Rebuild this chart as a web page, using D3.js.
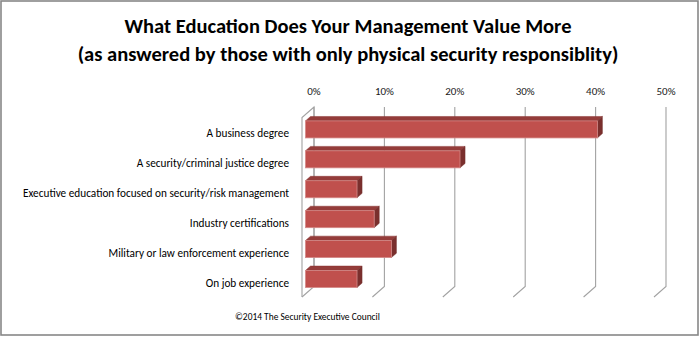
<!DOCTYPE html>
<html>
<head>
<meta charset="utf-8">
<script src="https://cdn.jsdelivr.net/npm/d3@7"></script>
<style>
  html, body { margin: 0; padding: 0; background: #fff; }
  svg { display: block; }
  text { font-family: Carlito, Calibri, Lato, "Open Sans", sans-serif; }
</style>
</head>
<body>
<svg id="chart" width="700" height="338"></svg>
<script>
// ---- Data ----
const titleLines = [
  "What Education Does Your Management Value More",
  "(as answered by those with only physical security responsiblity)"
];
const categories = [
  "A business degree",
  "A security/criminal justice degree",
  "Executive education focused on security/risk management ",
  "Industry certifications",
  "Military or law enforcement experience",
  "On job experience"
];
const values = [41.46, 21.95, 7.32, 9.76, 12.20, 7.32]; // percent
const tickValues = [0, 10, 20, 30, 40, 50];
const tickLabels = ["0%", "10%", "20%", "30%", "40%", "50%"];
const footnote = "\u00A92014 The Security Executive Council";

// ---- Layout ----
const svg = d3.select("#chart");
const W = 700, H = 338;

svg.append("rect").attr("x", 0).attr("y", 0).attr("width", W).attr("height", H).attr("fill", "#fff");
svg.append("rect").attr("x", 1).attr("y", 1).attr("width", 697).attr("height", 334)
  .attr("fill", "none").attr("stroke", "#878787").attr("stroke-width", 1.6);

function fitWidth(sel, target) {
  const node = sel.node();
  const fs = parseFloat(sel.attr("font-size"));
  const w = node.getComputedTextLength();
  if (w > 0) sel.attr("font-size", (fs * target / w).toFixed(2));
}

// Title
const t1 = svg.append("text").attr("x", 348).attr("y", 33).attr("text-anchor", "middle")
  .attr("font-size", 23).attr("font-weight", "bold").attr("fill", "#000").text(titleLines[0]);
fitWidth(t1, 447);
const t2 = svg.append("text").attr("x", 348).attr("y", 61).attr("text-anchor", "middle")
  .attr("font-size", 23).attr("font-weight", "bold").attr("fill", "#000").text(titleLines[1]);
fitWidth(t2, 541);

// 3D-ish plot geometry
const ox = 302, oy = 117.5;
const depth = [12, -10.5];
const x = d3.scaleLinear().domain([0, 50]).range([0, 352]);
const y = d3.scaleBand().domain(categories).range([0, 179.5]).paddingInner(0.43).paddingOuter(0.215);
const plotH = 179.5;

function P(v, yy, f) {
  return [ox + x(v) + f * depth[0], oy + yy + f * depth[1]];
}

const grid = svg.append("g").attr("fill", "none").attr("stroke", "#a2a2a2").attr("stroke-width", 1.1);
const lw = [P(0, plotH, 0), P(0, 0, 0), P(0, 0, 1), P(0, plotH, 1)];
grid.append("path").attr("d", d3.line()(lw));
tickValues.forEach(t => {
  grid.append("path").attr("d", d3.line()([P(t, 0, 1), P(t, plotH, 1), P(t, plotH, 0)]));
});

// tick labels
const tl = svg.append("g").selectAll("text").data(tickValues).join("text")
  .attr("x", d => P(d, 0, 1)[0])
  .attr("y", 95)
  .attr("text-anchor", "middle")
  .attr("font-size", 11)
  .attr("fill", "#1a1a1a")
  .text((d, i) => tickLabels[i]);
{
  const n = tl.filter((d, i) => i === 1).node().getComputedTextLength();
  tl.attr("font-size", (11 * 19 / n).toFixed(2));
}

// bars
const f0 = 0.29, f1 = 0.71;
const bars = svg.append("g");
categories.forEach((c, i) => {
  const v = values[i];
  const y0 = y(c), y1 = y(c) + y.bandwidth();
  const g = bars.append("g");
  g.append("path").attr("fill", "#943c3a").attr("stroke", "#8a3533").attr("stroke-width", 0.5)
    .attr("d", d3.line()([P(0, y0, f0), P(v, y0, f0), P(v, y0, f1), P(0, y0, f1)]) + "Z");
  g.append("path").attr("fill", "#7a2f2d").attr("stroke", "#74302e").attr("stroke-width", 0.5)
    .attr("d", d3.line()([P(v, y0, f0), P(v, y1, f0), P(v, y1, f1), P(v, y0, f1)]) + "Z");
  const a = P(0, y0, f0), b = P(v, y1, f0);
  g.append("rect").attr("x", a[0]).attr("y", a[1]).attr("width", b[0] - a[0]).attr("height", b[1] - a[1])
    .attr("fill", "#c0504d").attr("stroke", "#d48a88").attr("stroke-width", 0.8);
});

// category labels
const labs = svg.append("g").selectAll("text").data(categories).join("text")
  .attr("x", 289)
  .attr("y", d => oy + y(d) + y.bandwidth() / 2 + 5)
  .attr("text-anchor", "end")
  .attr("font-size", 11)
  .attr("fill", "#000")
  .text(d => d.trim());
const natural = labs.filter((d, i) => i === 2).node().getComputedTextLength();
labs.attr("font-size", (11 * 266 / natural).toFixed(2));

// footnote
const fn = svg.append("text").attr("x", 235).attr("y", 320).attr("font-size", 9.5).attr("fill", "#000").text(footnote);
fitWidth(fn, 145);
</script>
</body>
</html>
